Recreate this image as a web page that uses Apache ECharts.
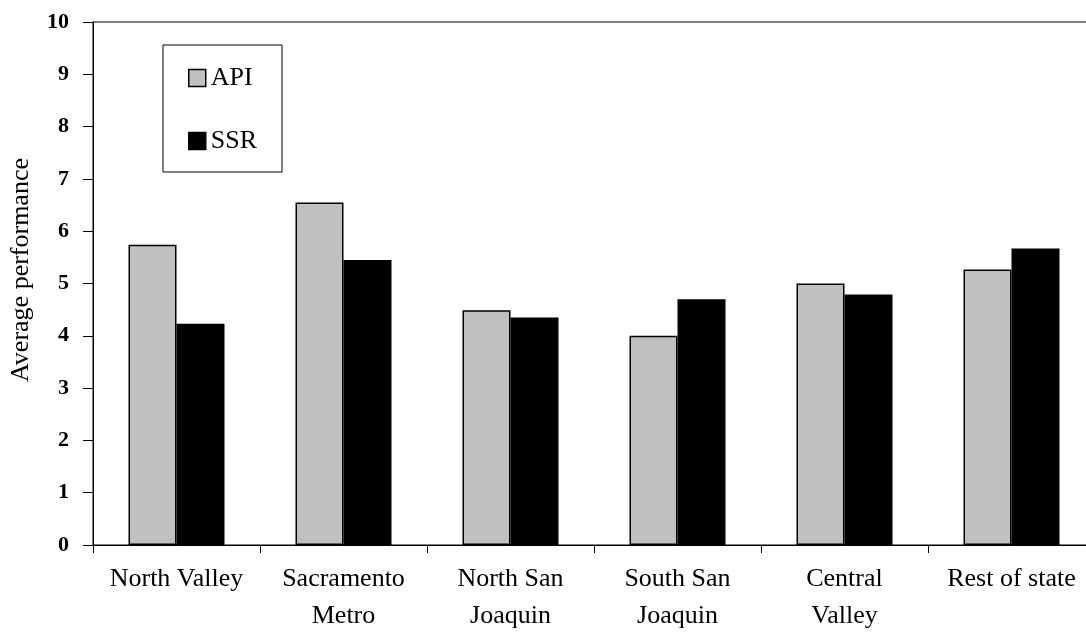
<!DOCTYPE html>
<html>
<head>
<meta charset="utf-8">
<script src="https://cdn.jsdelivr.net/npm/echarts@6/dist/echarts.min.js"></script>
<style>
html,body{margin:0;padding:0;background:#fff;}
#chart{width:1086px;height:637px;}
</style>
</head>
<body>
<div id="chart"></div>
<script>
const categories = ["North Valley", "Sacramento\nMetro", "North San\nJoaquin", "South San\nJoaquin", "Central\nValley", "Rest of state"];
const apiValues = [5.74, 6.55, 4.49, 4.00, 5.00, 5.27];
const ssrValues = [4.23, 5.45, 4.35, 4.70, 4.79, 5.67];
const seriesNames = ["API", "SSR"];
const yAxisTitle = "Average performance";

const FONT = "'Liberation Serif', 'Times New Roman', serif";
const chart = echarts.init(document.getElementById('chart'), null, {renderer: 'canvas'});
chart.setOption({
  backgroundColor: '#fff',
  animation: false,
  textStyle: {fontFamily: FONT, color: '#000'},
  grid: {
    left: 93, top: 22, bottom: 92, right: -9,
    containLabel: false, outerBoundsMode: 'none',
    show: true, borderColor: '#000', borderWidth: 1
  },
  legend: {
    orient: 'vertical', left: 163, top: 45,
    padding: [20, 25, 18, 25], itemGap: 37,
    itemWidth: 17, itemHeight: 17, icon: 'rect',
    borderColor: '#000', borderWidth: 1,
    backgroundColor: '#fff',
    itemStyle: {borderColor: '#000', borderWidth: 1.5},
    textStyle: {fontFamily: FONT, fontSize: 26, color: '#000', padding: [0,0,0,0]},
    data: seriesNames
  },
  xAxis: {
    type: 'category', data: categories,
    axisLine: {lineStyle: {color: '#000', width: 1}},
    axisTick: {show: true, length: 8, lineStyle: {color: '#000'}},
    axisLabel: {interval: 0, fontFamily: FONT, fontSize: 26, color: '#000', lineHeight: 37, margin: 16}
  },
  yAxis: {
    type: 'value', min: 0, max: 10, interval: 1,
    name: yAxisTitle, nameLocation: 'middle', nameGap: 59,
    nameTextStyle: {fontFamily: FONT, fontSize: 26, color: '#000', padding: [0, 0, 0, 27]},
    axisLine: {show: true, lineStyle: {color: '#000', width: 1}},
    axisTick: {show: true, length: 10, lineStyle: {color: '#000'}},
    splitLine: {show: false},
    axisLabel: {fontFamily: FONT, fontSize: 22, fontWeight: 'bold', color: '#000', margin: 24}
  },
  series: [
    {
      name: seriesNames[0], type: 'bar', data: apiValues,
      barWidth: 48, barGap: '0%',
      itemStyle: {color: '#c0c0c0', borderColor: '#000', borderWidth: 1.5}
    },
    {
      name: seriesNames[1], type: 'bar', data: ssrValues,
      barWidth: 48, barGap: '0%',
      itemStyle: {color: '#000', borderColor: '#000', borderWidth: 1.5}
    }
  ]
});
</script>
</body>
</html>
